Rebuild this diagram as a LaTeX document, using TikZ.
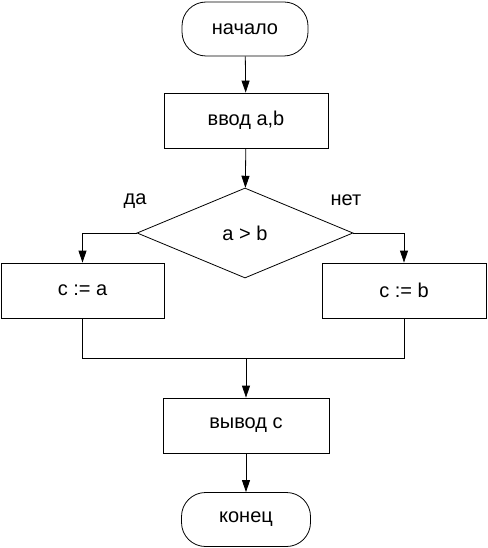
\documentclass[tikz,border=0pt]{standalone}
\usepackage{fontspec}
\setmainfont{Liberation Sans}
\usetikzlibrary{shapes.geometric,arrows.meta}
\begin{document}
\begin{tikzpicture}[x=1pt,y=-1pt,
  every node/.style={font=\fontsize{20}{24}\selectfont},
  proc/.style={draw,line width=0.8pt,minimum height=55pt,inner sep=0pt},
  term/.style={draw,line width=0.8pt,minimum height=54pt,rounded corners=24pt,inner sep=0pt},
  cond/.style={draw,line width=0.8pt,shape=diamond,minimum width=216pt,minimum height=90pt,inner sep=0pt,aspect=2.4},
  flow/.style={line width=0.8pt,-{Triangle[length=12pt,width=8pt]}},
  link/.style={line width=0.8pt}]
\useasboundingbox (0,0) rectangle (487,548);
\node[term,minimum width=126pt] (start) at (245,29) {начало};
\node[proc,minimum width=164pt] (in) at (246,120.5) {ввод a,b};
\node[cond] (dec) at (245,233) {a > b};
\node[proc,minimum width=163pt] (ca) at (82.5,290.5) {c := a};
\node[proc,minimum width=164pt] (cb) at (404,290.5) {c := b};
\node[proc,minimum width=166pt] (out) at (246,425.5) {вывод c};
\node[term,minimum width=129pt] (end) at (246,519.5) {конец};
\coordinate (j) at (246,358);
\node (yes) at (135,201) {да};
\node (no) at (346,200) {нет};
\draw[flow] (start) -- (in);
\draw[flow] (in) -- (dec);
\draw[flow] (dec.west) -| (ca.north);
\draw[flow] (dec.east) -| (cb.north);
\draw[link] (ca.south) -- (ca.south |- j) -- (cb.south |- j) -- (cb.south);
\draw[flow] (j) -- (out);
\draw[flow] (out) -- (end);
\end{tikzpicture}
\end{document}
